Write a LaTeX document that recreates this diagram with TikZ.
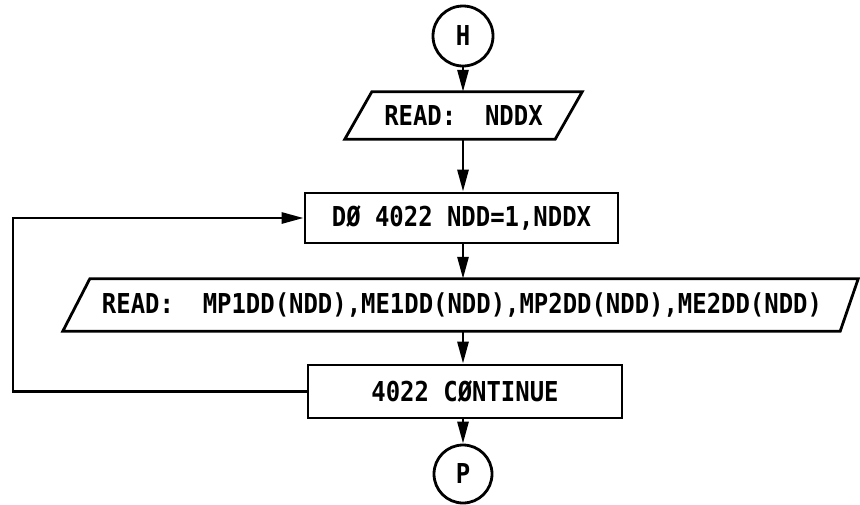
\documentclass[tikz,border=0pt]{standalone}
\usepackage{fontspec}
\newfontfamily\flowfont[FakeStretch=0.873]{DejaVu Sans Mono}
\usetikzlibrary{arrows.meta}
\begin{document}
\begin{tikzpicture}[x=1pt,y=-1pt,
  thick line/.style={line width=2.8pt},
  arrowline/.style={line width=2.8pt,-{Triangle[length=22pt,width=11pt]}},
  procbox/.style={draw, line width=2.8pt, rectangle, inner sep=0pt},
  iobox/.style={draw=none, rectangle, inner sep=0pt},
  connector/.style={draw, circle, line width=2.8pt, inner sep=0pt},
  every node/.style={font=\flowfont\bfseries\fontsize{27.4}{30}\selectfont}]
\useasboundingbox (0,0) rectangle (860,504);

\node[connector, minimum size=60pt] (h) at (463,36) {H};
\node[iobox, minimum width=210pt, minimum height=47pt] (rd1) at (463.5,115.5) {READ:\ \ NDDX};
\draw[thick line] ([xshift=13.5pt]rd1.north west) -- ([xshift=13.5pt]rd1.north east)
  -- ([xshift=-13.5pt]rd1.south east) -- ([xshift=-13.5pt]rd1.south west) -- cycle;

\node[procbox, minimum width=313pt, minimum height=50pt] (do) at (461.5,218) {DØ 4022 NDD=1,NDDX};

\node[iobox, minimum width=772pt, minimum height=52pt] (rd2) at (462,305)
  {READ:\ \ MP1DD(NDD),ME1DD(NDD),MP2DD(NDD),ME2DD(NDD)};
\draw[thick line] ([xshift=14pt]rd2.north west) -- ([xshift=10pt]rd2.north east)
  -- ([xshift=-8pt]rd2.south east) -- ([xshift=-13pt]rd2.south west) -- cycle;

\node[procbox, minimum width=314pt, minimum height=53pt] (ct) at (465,391.5) {4022 CØNTINUE};

\node[connector, minimum size=58pt] (p) at (463,474) {P};

\coordinate (lp) at (13,300);

\draw[arrowline] (h.south) -- (h.south |- rd1.north);
\draw[arrowline] (rd1.south -| h) -- (do.north -| h);
\draw[arrowline] (do.south -| h) -- (rd2.north -| h);
\draw[arrowline] (rd2.south -| h) -- (ct.north -| h);
\draw[arrowline] (ct.south -| h) -- (p.north);
\draw[arrowline] (ct.west) -| (lp) |- (do.west);
\end{tikzpicture}
\end{document}
